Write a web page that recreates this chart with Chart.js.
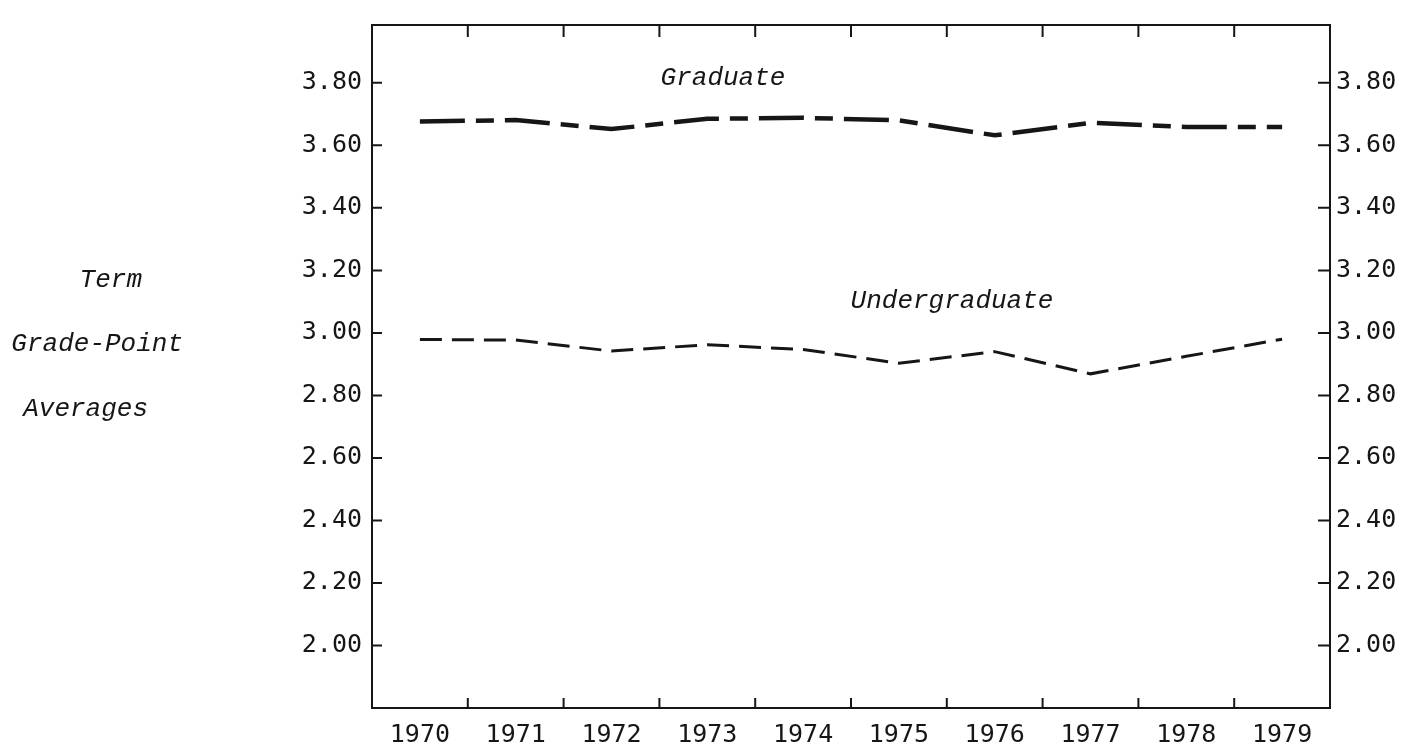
<!DOCTYPE html>
<html>
<head>
<meta charset="utf-8">
<script src="https://cdn.jsdelivr.net/npm/chart.js@4.4.1/dist/chart.umd.min.js"></script>
<style>
  body { margin: 0; background: #fff; }
  #wrap { width: 1415px; height: 749px; position: relative; }
</style>
</head>
<body>
<div id="wrap"><canvas id="gpaChart"></canvas></div>
<script>
// Term grade-point averages
const years = ["1970", "1971", "1972", "1973", "1974", "1975", "1976", "1977", "1978", "1979"];
const graduate = [3.676, 3.681, 3.652, 3.685, 3.688, 3.680, 3.632, 3.672, 3.659, 3.659];
const undergraduate = [2.979, 2.977, 2.942, 2.962, 2.947, 2.903, 2.940, 2.869, 2.925, 2.980];
const yTicks = [2.0, 2.2, 2.4, 2.6, 2.8, 3.0, 3.2, 3.4, 3.6, 3.8];

const ink = "#161616";
const tickFont = { family: "DejaVu Sans Mono", size: 25 };

// tick marks drawn inward on all four sides + the italic labels
const frameTicks = {
  id: "frameTicks",
  afterDraw(chart) {
    const ctx = chart.ctx;
    const a = chart.chartArea;
    const x = chart.scales.x, y = chart.scales.y;
    ctx.save();
    ctx.strokeStyle = ink;
    ctx.lineWidth = 2;
    ctx.beginPath();
    yTicks.forEach(v => {
      const py = y.getPixelForValue(v);
      ctx.moveTo(a.left, py); ctx.lineTo(a.left + 10, py);
      ctx.moveTo(a.right - 12, py); ctx.lineTo(a.right, py);
    });
    for (let i = 0; i < years.length - 1; i++) {
      const px = (x.getPixelForValue(i) + x.getPixelForValue(i + 1)) / 2;
      ctx.moveTo(px, a.top); ctx.lineTo(px, a.top + 12);
      ctx.moveTo(px, a.bottom - 10); ctx.lineTo(px, a.bottom);
    }
    ctx.stroke();

    ctx.fillStyle = ink;
    ctx.font = "italic 26px 'Liberation Mono'";
    ctx.textAlign = "center";
    ctx.textBaseline = "alphabetic";
    ctx.fillText("Graduate", 723, 85);
    ctx.fillText("Undergraduate", 952, 308);
    ctx.textAlign = "right";
    ctx.fillText("Term", 142, 287);
    ctx.fillText("Grade-Point", 183, 351);
    ctx.fillText("Averages", 148, 416);
    ctx.restore();
  }
};

function keepTicks(scale) {
  scale.ticks = yTicks.map(v => ({ value: v }));
}

new Chart(document.getElementById("gpaChart").getContext("2d"), {
  type: "line",
  data: {
    labels: years,
    datasets: [
      {
        label: "Graduate",
        data: graduate,
        borderColor: ink,
        borderWidth: 4.5,
        borderDash: [45, 11, 18, 11],
        pointRadius: 0,
        tension: 0,
        fill: false
      },
      {
        label: "Undergraduate",
        data: undergraduate,
        borderColor: ink,
        borderWidth: 3,
        borderDash: [22, 10],
        pointRadius: 0,
        tension: 0,
        fill: false
      }
    ]
  },
  options: {
    responsive: true,
    maintainAspectRatio: false,
    animation: false,
    layout: { padding: 0 },
    plugins: {
      legend: { display: false },
      tooltip: { enabled: false }
    },
    scales: {
      x: {
        type: "category",
        position: "bottom",
        offset: true,
        grid: { display: false, drawTicks: false },
        border: { display: true, color: ink, width: 2 },
        ticks: { color: ink, font: tickFont, padding: 12, maxRotation: 0, autoSkip: false },
        afterFit(s) { s.height = 41; }
      },
      x2: {
        type: "category",
        position: "top",
        offset: true,
        labels: years,
        grid: { display: false, drawTicks: false },
        border: { display: true, color: ink, width: 2 },
        ticks: { display: false },
        afterFit(s) { s.height = 10; }
      },
      y: {
        position: "left",
        min: 1.8,
        max: 3.985,
        afterBuildTicks: keepTicks,
        grid: { display: false, drawTicks: false },
        border: { display: true, color: ink, width: 2 },
        ticks: { color: ink, font: tickFont, padding: 10, callback: v => Number(v).toFixed(2) },
        afterFit(s) { s.width = 372; }
      },
      y2: {
        position: "right",
        min: 1.8,
        max: 3.985,
        afterBuildTicks: keepTicks,
        grid: { display: false, drawTicks: false },
        border: { display: true, color: ink, width: 2 },
        ticks: { color: ink, font: tickFont, padding: 6, callback: v => Number(v).toFixed(2) },
        afterFit(s) { s.width = 85; }
      }
    }
  },
  plugins: [frameTicks]
});
</script>
</body>
</html>
